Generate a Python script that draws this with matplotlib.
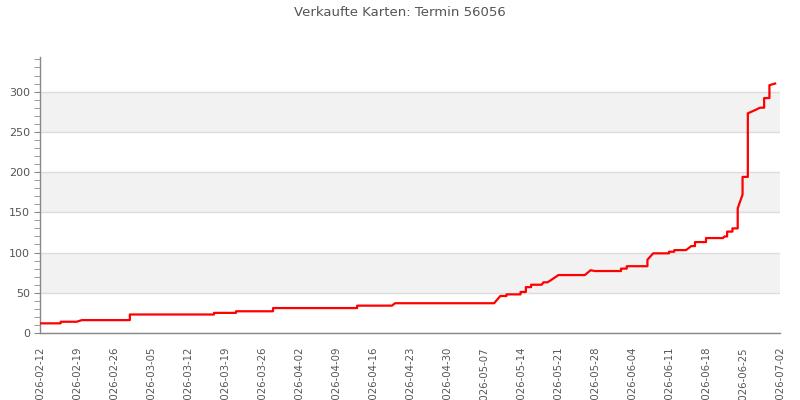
import numpy as np
import pandas as pd
import matplotlib
matplotlib.use('Agg')
import matplotlib.pyplot as plt
import matplotlib.dates as mdates
from matplotlib.ticker import MultipleLocator

# Verkaufte Karten (kumuliert) - Zeitpunkte und Werte
times = [
    '2026-02-12 00:00', '2026-02-15 22:00', '2026-02-15 22:00', '2026-02-18 22:00',
    '2026-02-19 22:00', '2026-03-01 00:00', '2026-03-01 00:00', '2026-03-16 22:00',
    '2026-03-16 22:00', '2026-03-21 02:00', '2026-03-21 02:00', '2026-03-28 02:00',
    '2026-03-28 02:00', '2026-04-13 00:00', '2026-04-13 00:00', '2026-04-19 14:00',
    '2026-04-20 04:00', '2026-05-08 22:00', '2026-05-10 02:00', '2026-05-11 06:00',
    '2026-05-11 06:00', '2026-05-13 22:00', '2026-05-13 22:00', '2026-05-14 22:00',
    '2026-05-14 22:00', '2026-05-15 22:00', '2026-05-15 22:00', '2026-05-17 22:00',
    '2026-05-18 06:00', '2026-05-19 00:00', '2026-05-19 12:00', '2026-05-21 02:00',
    '2026-05-26 02:00', '2026-05-27 04:00', '2026-05-28 00:00', '2026-06-01 22:00',
    '2026-06-01 22:00', '2026-06-03 00:00', '2026-06-03 00:00', '2026-06-06 22:00',
    '2026-06-06 22:00', '2026-06-08 00:00', '2026-06-11 00:00', '2026-06-11 00:00',
    '2026-06-12 00:00', '2026-06-12 00:00', '2026-06-14 05:00', '2026-06-15 05:00',
    '2026-06-15 22:00', '2026-06-15 22:00', '2026-06-18 00:00', '2026-06-18 00:00',
    '2026-06-21 05:00', '2026-06-21 12:00', '2026-06-22 00:00', '2026-06-22 00:00',
    '2026-06-23 00:00', '2026-06-23 00:00', '2026-06-24 00:00', '2026-06-24 00:00',
    '2026-06-24 22:00', '2026-06-24 22:00', '2026-06-25 22:00', '2026-06-25 22:00',
    '2026-06-27 07:00', '2026-06-28 05:00', '2026-06-29 00:00', '2026-06-29 00:00',
    '2026-06-30 00:00', '2026-06-30 00:00', '2026-07-01 02:00',
]
sold = [
    12, 12, 14, 14,
    16, 16, 23, 23,
    25, 25, 27, 27,
    31, 31, 34, 34,
    37, 37, 46, 46,
    48, 48, 51, 51,
    57, 57, 60, 60,
    63, 63, 65, 72,
    72, 78, 77, 77,
    80, 80, 83, 83,
    91, 99, 99, 101,
    101, 103, 103, 108,
    108, 113, 113, 118,
    118, 120, 120, 126,
    126, 130, 130, 155,
    172, 194, 194, 273,
    277, 280, 280, 292,
    292, 308, 310,
]
tick_dates = pd.date_range('2026-02-12', '2026-07-02', freq='7D')

if __name__ == '__main__':
    x = pd.to_datetime(times)
    y = np.array(sold)

    fig = plt.figure(figsize=(8, 4), dpi=100)
    ax = fig.add_axes([0.05, 0.1675, 0.925, 0.69])

    # abwechselnde Bänder
    for lo in (50, 150, 250):
        ax.axhspan(lo, lo + 50, color='#f2f2f2', zorder=0, lw=0)
    ax.yaxis.grid(True, color='#dddddd', lw=1, zorder=1)

    ax.plot(x, y, color='red', lw=1.6, zorder=3)

    ax.set_xlim(pd.Timestamp('2026-02-12'), pd.Timestamp('2026-07-02'))
    ax.set_ylim(0, 343)
    ax.yaxis.set_major_locator(MultipleLocator(50))
    ax.yaxis.set_minor_locator(MultipleLocator(10))
    ax.set_xticks(tick_dates)
    ax.xaxis.set_major_formatter(mdates.DateFormatter('%Y-%m-%d'))

    for s in ('top', 'right'):
        ax.spines[s].set_visible(False)
    for s in ('left', 'bottom'):
        ax.spines[s].set_color('#888888')
        ax.spines[s].set_linewidth(1)

    ax.tick_params(axis='y', which='both', length=4, color='#888888', labelcolor='#555555', labelsize=8, pad=3)
    ax.tick_params(axis='x', length=0, labelcolor='#555555', labelsize=7.3, pad=10, labelrotation=90)
    for lbl in ax.get_xticklabels():
        lbl.set_verticalalignment('top')

    fig.suptitle('Verkaufte Karten: Termin 56056', y=0.985, fontsize=9.5, color='#555555')

    plt.savefig('out.png', dpi=100)
